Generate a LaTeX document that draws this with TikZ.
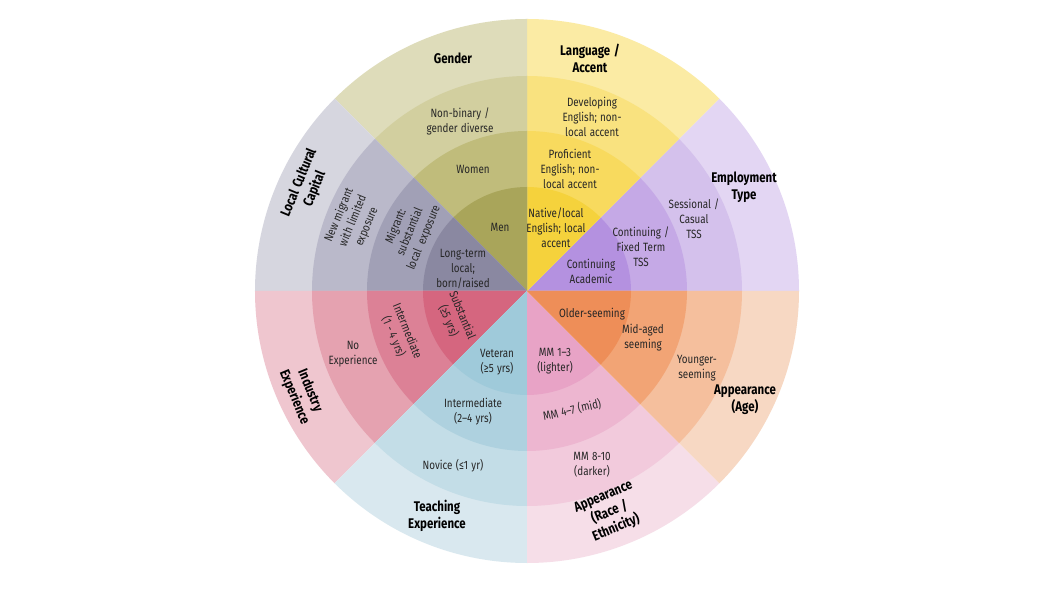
\documentclass[tikz,border=0pt]{standalone}
\usepackage{fontspec}
\setmainfont{Fira Sans}[FakeStretch=0.82, WordSpace=1.25]
\newfontfamily\ttlfam{Fira Sans}[FakeStretch=0.82, WordSpace=1.3]
\definecolor{gA}{HTML}{DEDCBA}\definecolor{gB}{HTML}{D2CF9F}\definecolor{gC}{HTML}{C0BC7B}\definecolor{gD}{HTML}{A9A55A}
\definecolor{lA}{HTML}{FBEBA4}\definecolor{lB}{HTML}{F9E27F}\definecolor{lC}{HTML}{F8DA5E}\definecolor{lD}{HTML}{F5D23C}
\definecolor{eA}{HTML}{E3D6F3}\definecolor{eB}{HTML}{D4C1EC}\definecolor{eC}{HTML}{C5A9E6}\definecolor{eD}{HTML}{B491E0}
\definecolor{aA}{HTML}{F7D8C3}\definecolor{aB}{HTML}{F5BF9D}\definecolor{aC}{HTML}{F2A475}\definecolor{aD}{HTML}{EE8E58}
\definecolor{rA}{HTML}{F6DEE8}\definecolor{rB}{HTML}{F2CADC}\definecolor{rC}{HTML}{EDB6D0}\definecolor{rD}{HTML}{E8A3C6}
\definecolor{tA}{HTML}{D9E8EF}\definecolor{tB}{HTML}{C3DDE7}\definecolor{tC}{HTML}{AED1DF}\definecolor{tD}{HTML}{9FCADA}
\definecolor{iA}{HTML}{EFC6CF}\definecolor{iB}{HTML}{E5A2B0}\definecolor{iC}{HTML}{DC8196}\definecolor{iD}{HTML}{D5667F}
\definecolor{cA}{HTML}{D6D6DF}\definecolor{cB}{HTML}{BAB9CA}\definecolor{cC}{HTML}{A1A0B6}\definecolor{cD}{HTML}{8A88A1}
\definecolor{txt}{HTML}{262626}
\begin{document}
\begin{tikzpicture}[x=1pt,y=1pt,
  lbl/.style={font=\fontsize{12}{15}\selectfont, align=center, text=txt, inner sep=0pt},
  ttl/.style={font=\ttlfam\bfseries\fontsize{14}{17}\selectfont, align=center, text=black, inner sep=0pt}]
\useasboundingbox (-527,-302) rectangle (537,291);
\fill[white] (-527,-302) rectangle (537,291);
% sectors: start angle, colours outer->inner
\foreach \a/\cA/\cB/\cC/\cD in {0/eA/eB/eC/eD, 45/lA/lB/lC/lD, 90/gA/gB/gC/gD, 135/cA/cB/cC/cD,
  180/iA/iB/iC/iD, 225/tA/tB/tC/tD, 270/rA/rB/rC/rD, 315/aA/aB/aC/aD}{
  \fill[\cA] (0,0) -- (\a:272) arc[start angle=\a, end angle=\a+45, radius=272] -- cycle;
  \fill[\cB] (0,0) -- (\a:215) arc[start angle=\a, end angle=\a+45, radius=215] -- cycle;
  \fill[\cC] (0,0) -- (\a:160) arc[start angle=\a, end angle=\a+45, radius=160] -- cycle;
  \fill[\cD] (0,0) -- (\a:104) arc[start angle=\a, end angle=\a+45, radius=104] -- cycle;
}
% Gender
\node[ttl] (gender) at (-74,233) {Gender};
\node[lbl] (nonbin) at (-67,170) {Non-binary /\\gender diverse};
\node[lbl] (women) at (-54,122) {Women};
\node[lbl] (men) at (-27,64) {Men};
% Local cultural capital
\node[ttl, rotate=67.5] (lcc) at (-220,105) {Local Cultural\\Capital};
\node[lbl, rotate=67.5] (newmig) at (-174,70) {New migrant\\with limited\\exposure};
\node[lbl, rotate=67.5] (migsub) at (-117,59) {Migrant:\\substantial\\local~~exposure};
\node[lbl] (longterm) at (-64,22) {Long-term\\local;\\born/raised};
% Language
\node[ttl] (lang) at (63,233) {Language /\\Accent};
\node[lbl] (devel) at (65,174) {Developing\\English; non-\\local accent};
\node[lbl] (profic) at (43,122) {Proficient\\English; non-\\local accent};
\node[lbl] (native) at (29,63) {Native/local\\English; local\\accent};
% Employment
\node[ttl] (employ) at (217,104) {Employment\\Type};
\node[lbl] (sess) at (167,72) {Sessional /\\Casual\\TSS};
\node[lbl] (contfix) at (114,44) {Continuing /\\Fixed Term\\TSS};
\node[lbl] (contac) at (64,20) {Continuing\\Academic};
% Industry
\node[lbl] (noexp) at (-174,-63) {No\\Experience};
\node[ttl, rotate=-67.5] (indus) at (-225,-103) {Industry\\Experience};
\node[lbl, rotate=-67.5] (inter1) at (-127,-43) {Intermediate\\(1 - 4 yrs)};
\node[lbl, rotate=-67.5] (subst) at (-72,-27) {Substantial\\(≥5 yrs)};
% Teaching
\node[lbl] (veteran) at (-30,-71) {Veteran\\(≥5 yrs)};
\node[lbl] (inter2) at (-54,-121) {Intermediate\\(2–4 yrs)};
\node[lbl] (novice) at (-74,-175) {Novice (≤1 yr)};
\node[ttl] (teach) at (-90,-225) {Teaching\\Experience};
% Age
\node[lbl] (older) at (65,-23) {Older-seeming};
\node[lbl] (midaged) at (116,-47) {Mid-aged\\seeming};
\node[lbl] (younger) at (170,-77) {Younger-\\seeming};
\node[ttl] (appage) at (218,-109) {Appearance\\(Age)};
% Race
\node[lbl] (mm13) at (28,-70) {MM 1–3\\(lighter)};
\node[lbl, rotate=13] (mm47) at (45,-119) {MM 4–7 (mid)};
\node[lbl] (mm810) at (65,-174) {MM 8-10\\(darker)};
\node[ttl, rotate=22.5] (apprace) at (83,-222) {Appearance\\(Race /\\Ethnicity)};
\end{tikzpicture}
\end{document}
